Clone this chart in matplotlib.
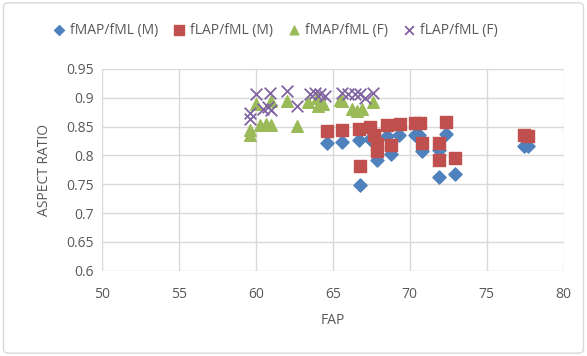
import matplotlib
matplotlib.use("Agg")
import matplotlib.pyplot as plt
from matplotlib.patches import FancyBboxPatch

plt.rcParams['font.family'] = ['Open Sans', 'DejaVu Sans']

# fMAP/fML (M)
m_map_x = [64.6, 65.6, 66.7, 67.4, 67.9, 68.5, 68.8, 69.3, 70.35, 70.6, 70.8, 71.9, 72.36, 71.9, 72.95, 66.8, 77.4, 77.7]
m_map_y = [0.822, 0.824, 0.826, 0.828, 0.792, 0.833, 0.803, 0.835, 0.836, 0.835, 0.808, 0.810, 0.838, 0.762, 0.767, 0.748, 0.816, 0.817]

# fLAP/fML (M)
m_lap_x = [64.6, 65.6, 66.7, 67.4, 67.65, 67.9, 67.9, 68.5, 68.8, 69.35, 70.35, 70.67, 70.8, 71.9, 71.9, 72.36, 72.95, 66.8, 77.4, 77.7]
m_lap_y = [0.842, 0.845, 0.846, 0.850, 0.836, 0.820, 0.808, 0.852, 0.818, 0.854, 0.856, 0.856, 0.822, 0.822, 0.792, 0.858, 0.796, 0.782, 0.835, 0.834]

# fMAP/fML (F)
f_map_x = [59.6, 59.6, 60.3, 60.7, 61.0, 60.0, 60.97, 62.05, 62.7, 63.42, 63.96, 64.07, 64.39, 65.47, 65.58, 66.23, 66.56, 66.88, 67.64]
f_map_y = [0.845, 0.835, 0.852, 0.855, 0.852, 0.889, 0.894, 0.894, 0.851, 0.892, 0.900, 0.886, 0.889, 0.897, 0.894, 0.880, 0.877, 0.880, 0.892]

# fLAP/fML (F)
f_lap_x = [59.6, 59.6, 60.0, 60.93, 62.0, 62.7, 60.5, 60.8, 61.0, 63.5, 63.85, 64.18, 64.5, 65.58, 66.0, 66.45, 66.77, 67.1, 67.64]
f_lap_y = [0.874, 0.863, 0.906, 0.909, 0.912, 0.886, 0.880, 0.884, 0.878, 0.906, 0.909, 0.906, 0.904, 0.909, 0.906, 0.906, 0.906, 0.900, 0.909]

x_ticks = [50, 55, 60, 65, 70, 75, 80]
y_ticks = [0.6, 0.65, 0.7, 0.75, 0.8, 0.85, 0.9, 0.95]
y_labels = ['0.6', '0.65', '0.7', '0.75', '0.8', '0.85', '0.9', '0.95']

fig = plt.figure(figsize=(5.87, 3.56), dpi=100)
fig.patches.append(FancyBboxPatch((0.006, 0.008), 0.988, 0.984, boxstyle="round,pad=0,rounding_size=0.01",
                                  transform=fig.transFigure, facecolor='none', edgecolor='#D9D9D9',
                                  linewidth=1, zorder=-1))
ax = fig.add_axes([0.1733, 0.2396, 0.787, 0.5666])
ax.patch.set_alpha(0)

blue, red, green, purple = '#4F81BD', '#C0504D', '#9BBB59', '#8064A2'
ax.scatter(m_map_x, m_map_y, marker='D', s=45, color=blue, label='fMAP/fML (M)', zorder=3)
ax.scatter(m_lap_x, m_lap_y, marker='s', s=82, color=red, label='fLAP/fML (M)', zorder=3)
ax.scatter(f_map_x, f_map_y, marker='^', s=70, color=green, label='fMAP/fML (F)', zorder=3)
ax.scatter(f_lap_x, f_lap_y, marker='x', s=70, color=purple, linewidths=1.3, label='fLAP/fML (F)', zorder=4)

ax.set_xlim(50, 80)
ax.set_ylim(0.6, 0.95)
ax.set_xticks(x_ticks)
ax.set_yticks(y_ticks)
ax.set_yticklabels(y_labels)
ax.grid(True, color='#D9D9D9', linewidth=1)
ax.set_axisbelow(True)
for s in ax.spines.values():
    s.set_visible(False)
ax.tick_params(length=0, labelsize=10, labelcolor='#595959', pad=6)
ax.tick_params(axis='x', pad=12)
ax.set_xlabel('FAP', fontsize=10, color='#595959', labelpad=8)
ax.set_ylabel('ASPECT RATIO', fontsize=10, color='#595959', labelpad=10)

leg = fig.legend(loc='center', bbox_to_anchor=(0.462, 0.915), ncol=4, frameon=False, fontsize=10,
                 handletextpad=-0.2, columnspacing=0.5, markerscale=0.75, borderaxespad=0)
for t in leg.get_texts():
    t.set_color('#595959')

fig.savefig('out.png', dpi=100)
